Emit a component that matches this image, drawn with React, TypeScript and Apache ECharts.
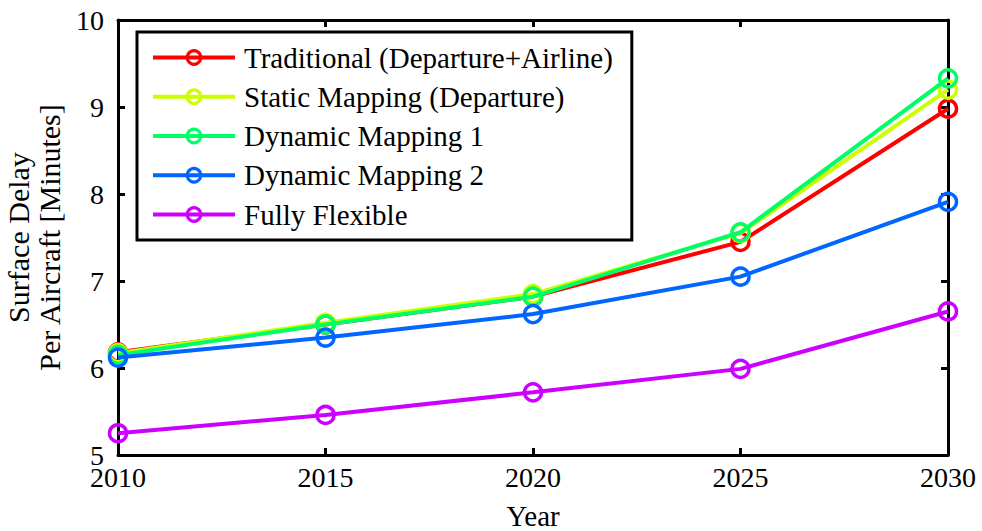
import React, { useEffect, useRef } from "react";
import * as echarts from "echarts";

const years = [2010, 2015, 2020, 2025, 2030];
const seriesNames = [
  "Traditional (Departure+Airline)",
  "Static Mapping (Departure)",
  "Dynamic Mapping 1",
  "Dynamic Mapping 2",
  "Fully Flexible",
];
const traditional = [6.18, 6.5, 6.82, 7.45, 8.98];
const staticMapping = [6.17, 6.52, 6.85, 7.55, 9.2];
const dynamic1 = [6.15, 6.5, 6.82, 7.56, 9.33];
const dynamic2 = [6.12, 6.35, 6.62, 7.05, 7.91];
const fullyFlexible = [5.25, 5.46, 5.72, 5.99, 6.65];
const colors = ["#ff0000", "#ccff00", "#00ff66", "#0066ff", "#cc00ff"];

const FONT = "'Liberation Serif', 'DejaVu Serif', serif";

export default function App() {
  const ref = useRef<HTMLDivElement>(null);
  useEffect(() => {
    if (!ref.current) return;
    const chart = echarts.init(ref.current, null, { renderer: "svg" });
    const all = [traditional, staticMapping, dynamic1, dynamic2, fullyFlexible];
    const series = all.map((vals, i) => ({
      name: seriesNames[i],
      type: "line",
      data: years.map((y, j) => [y, vals[j]]),
      symbol: "circle",
      symbolSize: 17,
      showAllSymbol: true,
      lineStyle: { color: colors[i], width: 4 },
      itemStyle: { color: "rgba(255,255,255,0)", borderColor: colors[i], borderWidth: 3.5 },
      emphasis: { disabled: true },
      z: 2 + i,
    }));
    const axisLine = { show: true, lineStyle: { color: "#000", width: 3 } };
    const tick = { show: true, inside: true, length: 7, lineStyle: { color: "#000", width: 3 } };
    chart.setOption({
      animation: false,
      backgroundColor: "#fff",
      textStyle: { fontFamily: FONT },
      grid: { left: 118, right: 34, top: 20, bottom: 76, containLabel: false, outerBoundsMode: "none" },
      legend: {
        orient: "vertical",
        left: 137,
        top: 32,
        data: seriesNames,
        itemWidth: 82,
        itemHeight: 17,
        itemGap: 8.25,
        padding: [10, 19, 10, 14],
        borderColor: "#000",
        borderWidth: 3,
        backgroundColor: "#fff",
        lineStyle: { width: 4 },
        itemStyle: { borderWidth: 3 },
        textStyle: { fontFamily: FONT, fontSize: 29, lineHeight: 31, color: "#000", padding: [0, 0, 0, 4] },
        selectedMode: false,
      },
      xAxis: [
        {
          type: "value",
          min: 2010,
          max: 2030,
          interval: 5,
          name: "Year",
          nameLocation: "middle",
          nameGap: 46,
          nameTextStyle: { fontFamily: FONT, fontSize: 29, lineHeight: 29, color: "#000" },
          axisLine,
          axisTick: tick,
          axisLabel: { fontFamily: FONT, fontSize: 28, color: "#000", margin: 8, formatter: (v: number) => String(v) },
          splitLine: { show: false },
        },
        {
          type: "value",
          position: "top",
          min: 2010,
          max: 2030,
          interval: 5,
          axisLine,
          axisTick: tick,
          axisLabel: { show: false },
          splitLine: { show: false },
        },
      ],
      yAxis: [
        {
          type: "value",
          min: 5,
          max: 10,
          interval: 1,
          name: "Surface Delay\nPer Aircraft [Minutes]",
          nameLocation: "middle",
          nameGap: 47,
          nameRotate: 90,
          nameTextStyle: { fontFamily: FONT, fontSize: 30, color: "#000", lineHeight: 31 },
          axisLine,
          axisTick: tick,
          axisLabel: { fontFamily: FONT, fontSize: 28, color: "#000", margin: 14 },
          splitLine: { show: false },
        },
        {
          type: "value",
          position: "right",
          min: 5,
          max: 10,
          interval: 1,
          axisLine,
          axisTick: tick,
          axisLabel: { show: false },
          splitLine: { show: false },
        },
      ],
      series,
    });
    return () => chart.dispose();
  }, []);
  return (
    <div
      ref={ref}
      style={{ position: "fixed", left: 0, top: 0, width: 982, height: 531, overflow: "hidden" }}
    />
  );
}
